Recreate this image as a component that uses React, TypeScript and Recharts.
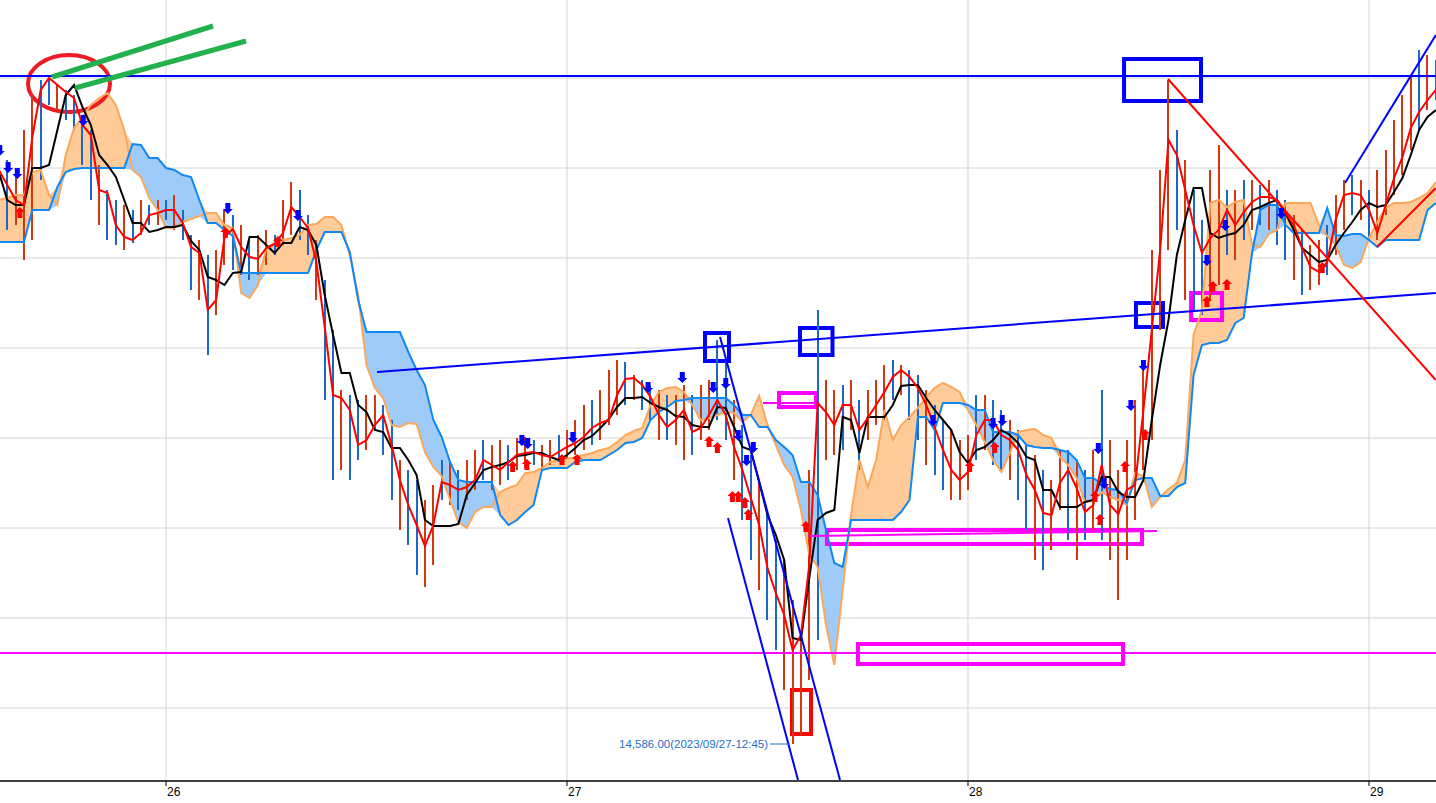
import {
  ComposedChart,
  Bar,
  Cell,
  Line,
  Area,
  Scatter,
  XAxis,
  YAxis,
  CartesianGrid,
  ReferenceLine,
  ReferenceArea,
  ReferenceDot,
} from "recharts";

// bars are half-hour steps counted from 2023/09/26 00:00
const T0 = -20;
const dayTicks = [0, 48, 96, 144];
const dayLabels = ["26", "27", "28", "29"];
const gridPrices = [15252, 15162, 15072, 14982, 14892, 14802, 14712, 14622];

const highs = [
  15190, 15170, 15155, 15200, 15235, 15250, 15252, 15245, 15240, 15235,
  15210, 15200, 15165, 15140, 15130, 15125, 15120, 15130, 15125, 15130,
  15130, 15135, 15120, 15095, 15090, 15075, 15080, 15120, 15115, 15105,
  15090, 15095, 15100, 15095, 15130, 15148, 15140, 15115, 15090, 15050,
  15000, 14940, 14935, 14930, 14935, 14935, 14925, 14910, 14870, 14860,
  14850, 14830, 14845, 14870, 14868, 14860, 14870, 14880, 14890, 14885,
  14890, 14885, 14892, 14893, 14890, 14885, 14890, 14895, 14900, 14910,
  14925, 14930, 14940, 14960, 14970, 14968, 14955, 14950, 14945, 14940,
  14935, 14935, 14945, 14935, 14945, 14950, 14990, 14970, 14930, 14905,
  14875, 14850, 14820, 14790, 14770, 14730, 14700, 14860, 15020, 14950,
  14940, 14945, 14950, 14930, 14940, 14950, 14965, 14970, 14965, 14960,
  14955, 14940, 14925, 14910, 14900, 14890, 14895, 14935, 14935, 14930,
  14920, 14910, 14900, 14885, 14875, 14860, 14850, 14880, 14880, 14870,
  14860, 14880, 14940, 14890, 14860, 14890, 14930, 14965, 15080, 15160,
  15250, 15200, 15170, 15140, 15110, 15160, 15185, 15140, 15140, 15150,
  15150, 15145, 15150, 15140, 15130, 15115, 15100, 15085, 15090, 15105,
  15135, 15150, 15155, 15150, 15140, 15160, 15180, 15210, 15235, 15255,
  15280, 15275, 15270,
];

const lows = [
  15065, 15100, 15105, 15070, 15090, 15150, 15225, 15220, 15210, 15200,
  15165, 15130, 15105, 15090, 15085, 15080, 15087, 15095, 15105, 15105,
  15110, 15100, 15090, 15040, 15030, 14975, 15015, 15065, 15060, 15055,
  15050, 15055, 15065, 15075, 15085, 15095, 15090, 15075, 15030, 14930,
  14850, 14860, 14850, 14870, 14880, 14900, 14875, 14830, 14800, 14785,
  14755, 14743, 14765, 14830, 14825, 14820, 14830, 14840, 14850, 14840,
  14845, 14850, 14860, 14862, 14865, 14860, 14865, 14868, 14872, 14875,
  14880, 14885, 14890, 14905, 14915, 14925, 14930, 14920, 14910, 14890,
  14890, 14885, 14870, 14875, 14890, 14900, 14910, 14890, 14850, 14810,
  14770, 14740, 14710, 14680, 14640, 14586, 14595, 14650, 14690, 14870,
  14875, 14880, 14900, 14860, 14890, 14905, 14910, 14930, 14935, 14910,
  14890, 14865, 14855, 14840, 14830, 14830, 14840, 14870, 14880, 14865,
  14860, 14850, 14830, 14800, 14770, 14760, 14780, 14820, 14790, 14770,
  14790, 14800, 14790, 14770, 14730, 14770, 14810, 14860, 14890, 15000,
  15080, 15100, 15030, 15020, 15015, 15030, 15045, 15075, 15070, 15090,
  15100, 15105, 15100, 15085, 15070, 15050, 15035, 15040, 15045, 15055,
  15075, 15100, 15115, 15110, 15090, 15090, 15115, 15135, 15155, 15180,
  15200, 15220, 15230,
];

// 1 = rising bar (red), 0 = falling bar (blue)
const upBars = [
  1, 0, 1, 1, 1, 0, 0, 1, 0, 0,
  0, 0, 1, 0, 0, 1, 0, 1, 0, 1,
  0, 1, 0, 0, 1, 0, 1, 1, 0, 1,
  0, 1, 1, 0, 1, 1, 0, 0, 1, 0,
  0, 1, 0, 0, 1, 1, 0, 0, 1, 0,
  0, 1, 1, 0, 1, 0, 1, 1, 0, 1,
  1, 0, 1, 1, 0, 1, 1, 0, 1, 1,
  1, 0, 1, 1, 1, 0, 1, 0, 0, 1,
  0, 1, 1, 0, 1, 1, 0, 0, 1, 0,
  0, 1, 0, 0, 1, 1, 1, 1, 0, 1,
  1, 0, 1, 0, 1, 1, 1, 0, 1, 0,
  0, 1, 0, 0, 1, 1, 1, 0, 1, 0,
  0, 1, 0, 0, 1, 0, 1, 1, 0, 1,
  0, 1, 0, 1, 1, 1, 1, 1, 1, 1,
  1, 0, 1, 0, 0, 1, 1, 0, 1, 0,
  1, 0, 1, 0, 0, 1, 0, 1, 1, 0,
  1, 1, 0, 1, 0, 1, 1, 1, 1, 1,
  0, 1, 0,
];

const tenkan = [
  15160, 15145, 15130, 15125, 15193, 15240, 15252, 15245, 15238, 15232,
  15205, 15195, 15140, 15137, 15105, 15093, 15090, 15097, 15115, 15117,
  15120, 15120, 15107, 15083, 15077, 15020, 15030, 15093, 15101, 15083,
  15073, 15071, 15082, 15086, 15097, 15123, 15113, 15102, 15068, 15003,
  14935, 14932, 14920, 14885, 14890, 14905, 14915, 14885, 14850, 14825,
  14805, 14784, 14805, 14848, 14845, 14840, 14843, 14850, 14870, 14865,
  14860, 14868, 14875, 14877, 14878, 14875, 14873, 14878, 14883, 14887,
  14893, 14902, 14907, 14910, 14935, 14951, 14952, 14945, 14933, 14915,
  14903, 14910, 14920, 14898, 14902, 14915, 14930, 14915, 14883, 14860,
  14832, 14805, 14762, 14737, 14715, 14680, 14695, 14765, 14927, 14918,
  14905, 14925, 14925, 14900, 14912, 14925, 14938, 14953, 14960, 14953,
  14942, 14925, 14903, 14880, 14860, 14850, 14858, 14895, 14910, 14910,
  14895, 14890, 14880, 14855, 14840, 14817, 14815, 14847, 14860, 14842,
  14818, 14825, 14865, 14825, 14816, 14840, 14845, 14920, 15000, 15080,
  15190, 15175, 15140, 15105, 15077, 15092, 15100, 15120, 15105, 15118,
  15128, 15133, 15133, 15130, 15117, 15105, 15082, 15063, 15058, 15068,
  15110, 15135, 15137, 15135, 15120, 15097, 15125, 15152, 15173, 15202,
  15218, 15230, 15240,
];

const kijun = [
  15158, 15130, 15125, 15125, 15162, 15162, 15165, 15200, 15235, 15245,
  15223, 15205, 15175, 15165, 15153, 15130, 15107, 15107, 15098, 15100,
  15103, 15103, 15105, 15089, 15080, 15053, 15050, 15045, 15057, 15058,
  15093, 15093, 15085, 15077, 15087, 15087, 15103, 15100, 15085, 15035,
  14995, 14957, 14957, 14925, 14918, 14900, 14898, 14882, 14882, 14870,
  14855, 14810, 14804, 14804, 14804, 14806, 14835, 14847, 14860, 14863,
  14865, 14868, 14874, 14875, 14877, 14877, 14873, 14870, 14875, 14882,
  14890, 14894, 14902, 14911, 14923, 14932, 14932, 14933, 14927, 14923,
  14920, 14914, 14913, 14905, 14903, 14903, 14923, 14922, 14903, 14883,
  14880, 14848, 14815, 14795, 14770, 14692, 14690, 14752, 14810, 14817,
  14820, 14913, 14910, 14877, 14913, 14913, 14913, 14925, 14944, 14945,
  14945, 14932, 14920, 14910, 14900, 14878, 14867, 14880, 14883, 14890,
  14900, 14895, 14887, 14873, 14870, 14840, 14840, 14823, 14823, 14823,
  14828, 14830, 14853, 14853, 14838, 14833, 14833, 14850, 14910, 14965,
  15010, 15075, 15110, 15142, 15142, 15097, 15092, 15095, 15097, 15105,
  15120, 15123, 15127, 15130, 15117, 15100, 15082, 15075, 15068, 15070,
  15085, 15097, 15108, 15120, 15127, 15123, 15125, 15138, 15152, 15175,
  15200, 15213, 15220,
];

const spanA = [
  15130, 15132, 15135, 15135, 15158, 15160, 15135, 15125, 15175, 15202,
  15213, 15225, 15232, 15237, 15225, 15200, 15160, 15153, 15132, 15120,
  15102, 15102, 15108, 15111, 15114, 15117, 15117, 15105, 15102, 15037,
  15032, 15045, 15082, 15087, 15090, 15092, 15095, 15105, 15106, 15113,
  15113, 15105, 15075, 15035, 14965, 14942, 14932, 14905, 14903, 14907,
  14906, 14878, 14863, 14854, 14830, 14808, 14802, 14818, 14823, 14823,
  14838, 14842, 14845, 14857, 14858, 14862, 14868, 14870, 14871, 14873,
  14875, 14877, 14880, 14882, 14888, 14895, 14899, 14902, 14925, 14938,
  14942, 14943, 14938, 14925, 14910, 14912, 14915, 14918, 14917, 14908,
  14915, 14934, 14905, 14885, 14865, 14853, 14820, 14775, 14763, 14705,
  14665, 14740, 14815, 14870, 14843, 14870, 14920, 14890, 14905, 14913,
  14922, 14933, 14942, 14947, 14943, 14938, 14920, 14905, 14888, 14870,
  14858, 14877, 14898, 14900, 14901, 14895, 14892, 14873, 14865, 14852,
  14828, 14829, 14838, 14833, 14830, 14825, 14857, 14854, 14823, 14833,
  14841, 14847, 14870, 14995, 15020, 15127, 15130, 15123, 15128, 15130,
  15085, 15083, 15096, 15100, 15127, 15127, 15127, 15127, 15105, 15094,
  15085, 15065, 15062, 15068, 15092, 15108, 15122, 15127, 15127, 15128,
  15132, 15137, 15148,
];

const spanB = [
  15088, 15088, 15088, 15088, 15120, 15120, 15120, 15143, 15158, 15161,
  15162, 15162, 15162, 15162, 15162, 15162, 15186, 15185, 15172, 15172,
  15162, 15160, 15155, 15153, 15130, 15107, 15107, 15100, 15094, 15057,
  15057, 15057, 15057, 15057, 15057, 15057, 15057, 15057, 15080, 15098,
  15098, 15098, 15078, 15030, 14998, 14998, 14998, 14998, 14998, 14978,
  14960, 14945, 14910, 14893, 14868, 14850, 14848, 14848, 14848, 14848,
  14815, 14805, 14810, 14818, 14825, 14860, 14862, 14862, 14862, 14868,
  14870, 14870, 14870, 14875, 14880, 14887, 14888, 14892, 14910, 14918,
  14923, 14929, 14930, 14932, 14932, 14932, 14932, 14932, 14925, 14915,
  14915, 14903, 14903, 14890, 14883, 14875, 14848, 14848, 14835, 14800,
  14767, 14763, 14810, 14810, 14810, 14810, 14810, 14810, 14818, 14830,
  14913, 14913, 14900, 14927, 14927, 14927, 14925, 14920, 14920, 14898,
  14898, 14898, 14895, 14885, 14883, 14882, 14882, 14880, 14878, 14870,
  14852, 14852, 14846, 14841, 14840, 14827, 14850, 14852, 14852, 14834,
  14834, 14843, 14847, 14955, 14985, 14987, 14987, 14990, 15007, 15012,
  15077, 15120, 15125, 15125, 15105, 15097, 15097, 15097, 15097, 15122,
  15095, 15094, 15096, 15096, 15090, 15083, 15090, 15090, 15090, 15090,
  15090, 15120, 15127,
];

// buy / sell signal arrows: [bar, price]
const buySignals = [
  [-17.5, 15117], [7.1, 15097], [13.4, 15088], [41.5, 14863], [43.2, 14865],
  [47.4, 14870], [49.2, 14870], [65.0, 14888], [66.0, 14882], [67.8, 14833],
  [68.5, 14833], [69.3, 14827], [69.7, 14815], [76.6, 14803], [96.2, 14863],
  [99.2, 14882], [111.2, 14833], [111.8, 14810], [114.8, 14863], [117.2, 14895],
  [124.6, 15028], [125.3, 15043], [127.0, 15045], [138.4, 15062],
];
const sellSignals = [
  [-19.9, 15180], [-18.9, 15163], [-17.8, 15157], [-9.9, 15210], [7.4, 15122],
  [15.8, 15115], [42.6, 14890], [43.3, 14887], [48.7, 14893], [57.7, 14943],
  [61.8, 14953], [65.5, 14943], [67.0, 14947], [68.5, 14895], [69.5, 14870],
  [70.3, 14883], [91.8, 14910], [99.0, 14907], [100.1, 14910], [111.6, 14882],
  [112.3, 14847], [115.5, 14925], [117.0, 14965], [124.6, 15070], [126.8, 15105],
  [133.5, 15117],
];

// hand-drawn markup: horizontal levels, trend lines, boxes
const resistance = 15254;
const supportLevel = 14677;
const blueTrends = [
  [[25.26, 14958], [152, 15037]],
  [[66.32, 14993], [80.68, 14550]],
  [[67.27, 14812], [75.65, 14550]],
  [[141.13, 15147], [152, 15295]],
];
const redTrends = [
  [[119.94, 15251], [152, 14950]],
  [[144.96, 15083], [152, 15142]],
];
const greenTrends = [
  [[-13.65, 15253], [5.63, 15304]],
  [[-10.89, 15242], [9.58, 15289]],
];
const magentaTrends = [
  [[71.46, 14927], [77.81, 14927]],
  [[77.09, 14794], [118.63, 14799]],
];
const blueBoxes = [
  [114.68, 123.89, 15229, 15271],
  [64.52, 67.39, 14969, 14997],
  [75.89, 79.78, 14975, 15002],
  [116.11, 119.34, 15003, 15027],
];
const magentaBoxes = [
  [73.38, 77.81, 14923, 14937],
  [79.12, 116.83, 14786, 14800],
  [82.83, 114.56, 14666, 14686],
  [122.7, 126.4, 15010, 15037],
];
const redBox = [74.93, 77.21, 14596, 14640];
const topCircle = [-16.52, -6.7, 15218, 15275];
const lowMark = { t: 74.7, price: 14586, text: "14,586.00(2023/09/27-12:45)" };

const data = highs.map((h, i) => {
  const a = spanA[i];
  const b = spanB[i];
  return {
    t: T0 + i,
    range: [lows[i], h],
    up: upBars[i],
    tenkan: tenkan[i],
    kijun: kijun[i],
    spanA: a,
    spanB: b,
    cloud: [Math.min(a, b), Math.max(a, b)],
    blueCloud: b > a ? [a, b] : [b, b],
  };
});

const buyData = buySignals.map(([t, p]) => ({ t, p }));
const sellData = sellSignals.map(([t, p]) => ({ t, p }));

const UpArrow = (p: any) => {
  const { cx, cy } = p;
  return (
    <path
      d={`M${cx},${cy - 6} L${cx + 5},${cy - 1} L${cx + 2.5},${cy - 1} L${cx + 2.5},${cy + 5} L${cx - 2.5},${cy + 5} L${cx - 2.5},${cy - 1} L${cx - 5},${cy - 1} Z`}
      fill="#ff0000"
    />
  );
};

const DownArrow = (p: any) => {
  const { cx, cy } = p;
  return (
    <path
      d={`M${cx},${cy + 6} L${cx + 5},${cy + 1} L${cx + 2.5},${cy + 1} L${cx + 2.5},${cy - 5} L${cx - 2.5},${cy - 5} L${cx - 2.5},${cy + 1} L${cx - 5},${cy + 1} Z`}
      fill="#0000ff"
    />
  );
};

const Wick = (p: any) => (
  <rect
    x={Math.round(p.x + p.width / 2) - 1}
    y={p.y}
    width={2}
    height={Math.max(p.height, 1)}
    fill={p.payload.up ? "#d2380f" : "#1c68c4"}
    shapeRendering="crispEdges"
  />
);

const DayTick = (props: any) => {
  const { x, y, payload } = props;
  const label = dayLabels[dayTicks.indexOf(payload.value)];
  return (
    <g>
      <line x1={x} y1={y} x2={x} y2={y + 5} stroke="#000" />
      <text x={x + 1} y={y + 15} fontSize={12} fontFamily="Liberation Sans, sans-serif" fill="#000">
        {label}
      </text>
    </g>
  );
};

const LowLabel = (p: any) => (
  <g>
    <line x1={p.cx - 20} y1={p.cy} x2={p.cx} y2={p.cy} stroke="#1f6fc8" strokeWidth={1} />
    <text
      x={p.cx - 22}
      y={p.cy + 4}
      textAnchor="end"
      fontSize={11.5}
      fontFamily="Liberation Sans, sans-serif"
      fill="#1f6fc8"
    >
      {lowMark.text}
    </text>
  </g>
);

const Ellipse = (p: any) => (
  <ellipse
    cx={p.x + p.width / 2}
    cy={p.y + p.height / 2}
    rx={p.width / 2}
    ry={p.height / 2}
    fill="none"
    stroke="#ed1c24"
    strokeWidth={4}
  />
);

const seg = (s: number[][]) => [
  { x: s[0][0], y: s[0][1] },
  { x: s[1][0], y: s[1][1] },
];

export default function App() {
  return (
    <div style={{ position: "absolute", left: 0, top: 0, width: 1436, height: 803, background: "#fff" }}>
      <ComposedChart width={1436} height={803} data={data} margin={{ top: 0, right: 0, bottom: 0, left: 0 }}>
        <CartesianGrid
          stroke="#d4d4d4"
          horizontalValues={gridPrices}
          verticalValues={dayTicks}
        />
        <XAxis
          dataKey="t"
          type="number"
          domain={[-19.87, 152.02]}
          allowDataOverflow
          ticks={dayTicks}
          tick={<DayTick />}
          tickLine={false}
          tickSize={0}
          tickMargin={0}
          height={22}
          axisLine={{ stroke: "#000", strokeWidth: 1.5 }}
          interval={0}
        />
        <YAxis hide type="number" domain={[14549, 15330]} allowDataOverflow />

        <Area dataKey="cloud" type="linear" stroke="none" fill="#ffcb98" fillOpacity={1} activeDot={false} isAnimationActive={false} />
        <Area dataKey="blueCloud" type="linear" stroke="none" fill="#9ecbf7" fillOpacity={1} activeDot={false} isAnimationActive={false} />
        <Line dataKey="spanA" type="linear" stroke="#fba85c" strokeWidth={2} dot={false} activeDot={false} isAnimationActive={false} />
        <Line dataKey="spanB" type="linear" stroke="#0f87f5" strokeWidth={2} dot={false} activeDot={false} isAnimationActive={false} />

        <Bar dataKey="range" barSize={2} shape={<Wick />} isAnimationActive={false}>
          {data.map((d, i) => (
            <Cell key={i} fill={d.up ? "#d2380f" : "#1c68c4"} />
          ))}
        </Bar>

        <Line dataKey="kijun" type="linear" stroke="#000000" strokeWidth={2} dot={false} activeDot={false} isAnimationActive={false} />
        <Line dataKey="tenkan" type="linear" stroke="#ff0000" strokeWidth={2} dot={false} activeDot={false} isAnimationActive={false} />

        <Scatter data={buyData} dataKey="p" shape={<UpArrow />} isAnimationActive={false} />
        <Scatter data={sellData} dataKey="p" shape={<DownArrow />} isAnimationActive={false} />

        <ReferenceLine y={resistance} stroke="#0000ff" strokeWidth={2} />
        <ReferenceLine y={supportLevel} stroke="#ff00ff" strokeWidth={2} />
        {blueTrends.map((s, i) => (
          <ReferenceLine key={"b" + i} segment={seg(s)} stroke="#0000ff" strokeWidth={2} ifOverflow="hidden" />
        ))}
        {redTrends.map((s, i) => (
          <ReferenceLine key={"r" + i} segment={seg(s)} stroke="#ff0000" strokeWidth={2} ifOverflow="hidden" />
        ))}
        {magentaTrends.map((s, i) => (
          <ReferenceLine key={"m" + i} segment={seg(s)} stroke="#ff00ff" strokeWidth={2} ifOverflow="hidden" />
        ))}
        {greenTrends.map((s, i) => (
          <ReferenceLine key={"g" + i} segment={seg(s)} stroke="#22b14c" strokeWidth={5} ifOverflow="hidden" />
        ))}
        {blueBoxes.map((b, i) => (
          <ReferenceArea key={"bb" + i} x1={b[0]} x2={b[1]} y1={b[2]} y2={b[3]} fill="none" stroke="#0000ff" strokeWidth={4} />
        ))}
        {magentaBoxes.map((b, i) => (
          <ReferenceArea key={"mb" + i} x1={b[0]} x2={b[1]} y1={b[2]} y2={b[3]} fill="none" stroke="#ff00ff" strokeWidth={4} />
        ))}
        <ReferenceArea x1={redBox[0]} x2={redBox[1]} y1={redBox[2]} y2={redBox[3]} fill="none" stroke="#ff0000" strokeWidth={4} />
        <ReferenceArea x1={topCircle[0]} x2={topCircle[1]} y1={topCircle[2]} y2={topCircle[3]} shape={<Ellipse />} />
        <ReferenceDot x={lowMark.t} y={lowMark.price} r={0} shape={<LowLabel />} />
      </ComposedChart>
    </div>
  );
}
